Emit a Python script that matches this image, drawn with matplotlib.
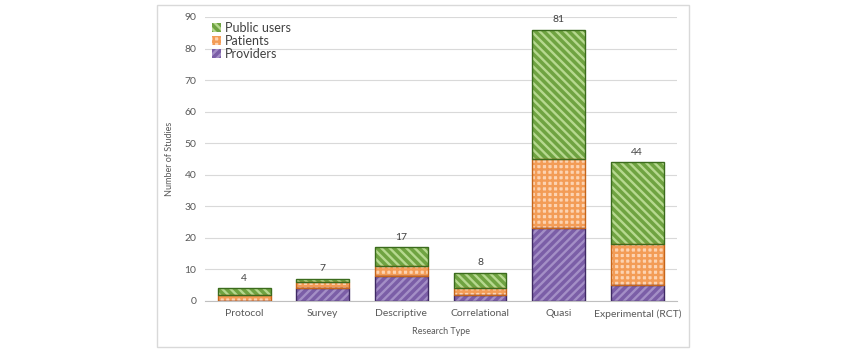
import numpy as np
import matplotlib.pyplot as plt
from matplotlib.patches import Rectangle

# Data
categories = ["Protocol", "Survey", "Descriptive", "Correlational", "Quasi", "Experimental (RCT)"]
providers = [0, 4, 8, 2, 23, 5]
patients = [2, 2, 3, 2, 22, 13]
public_users = [2, 1, 6, 5, 41, 26]
total_labels = [4, 7, 17, 8, 81, 44]

plt.rcParams['font.family'] = ['Lato', 'DejaVu Sans']
plt.rcParams['hatch.linewidth'] = 1.7

fig = plt.figure(figsize=(8.5, 3.54), dpi=100)
fig.patches.append(Rectangle((0.185, 0.02), 0.626, 0.966, transform=fig.transFigure,
                             fill=False, edgecolor='#d9d9d9', linewidth=1))
ax = fig.add_axes([0.241, 0.150, 0.555, 0.802])

x = np.arange(len(categories))
w = 0.67
bottom2 = np.array(providers)
bottom3 = bottom2 + np.array(patients)

series = [
    ("Providers", providers, np.zeros(len(x)), '#7b5ea7', '#a48fc6', '////', '#3f2a63'),
    ("Patients", patients, bottom2, '#fcd3b2', '#f39c56', '+++', '#c5651b'),
    ("Public users", public_users, bottom3, '#6fa341', '#b6d88f', '\\\\\\\\', '#3b6b1d'),
]
handles = []
for name, vals, bot, fc, hc, hatch, ec in series:
    # fill + hatch drawn in second colour, then dark outline on top
    ax.bar(x, vals, w, bottom=bot, color=fc, edgecolor=hc, hatch=hatch, linewidth=0, zorder=2)
    ax.bar(x, vals, w, bottom=bot, fill=False, edgecolor=ec, linewidth=1, zorder=3)
    handles.append(Rectangle((0, 0), 1, 1, facecolor=fc, edgecolor=hc, hatch=hatch, linewidth=0))

tops = bottom3 + np.array(public_users)
for xi, top, lab in zip(x, tops, total_labels):
    ax.annotate(str(lab), (xi, top), xytext=(0, 4), textcoords='offset points',
                ha='center', va='bottom', fontsize=7.5, color='#404040')

ax.set_ylim(0, 90)
ax.set_xlim(-0.5, len(x) - 0.5)
ax.set_yticks(range(0, 91, 10))
ax.set_xticks(x)
ax.set_xticklabels(categories)
ax.tick_params(axis='both', length=0, labelsize=7.5, colors='#595959', pad=6)
ax.grid(axis='y', color='#d9d9d9', linewidth=0.8, zorder=0)
ax.set_axisbelow(True)
for s in ['top', 'right', 'left']:
    ax.spines[s].set_visible(False)
ax.spines['bottom'].set_color('#bfbfbf')

ax.set_xlabel("Research Type", fontsize=6.5, color='#595959', labelpad=6)
ax.set_ylabel("Number of Studies", fontsize=6.5, color='#595959', labelpad=8)

leg = ax.legend(handles[::-1], ["Public users", "Patients", "Providers"], loc='upper left',
                bbox_to_anchor=(0.0, 1.01), frameon=False, fontsize=9,
                handlelength=0.7, handleheight=0.7, handletextpad=0.3, labelspacing=0.1,
                borderaxespad=0.2)
for t in leg.get_texts():
    t.set_color('#404040')

fig.savefig("out.png", dpi=100)
